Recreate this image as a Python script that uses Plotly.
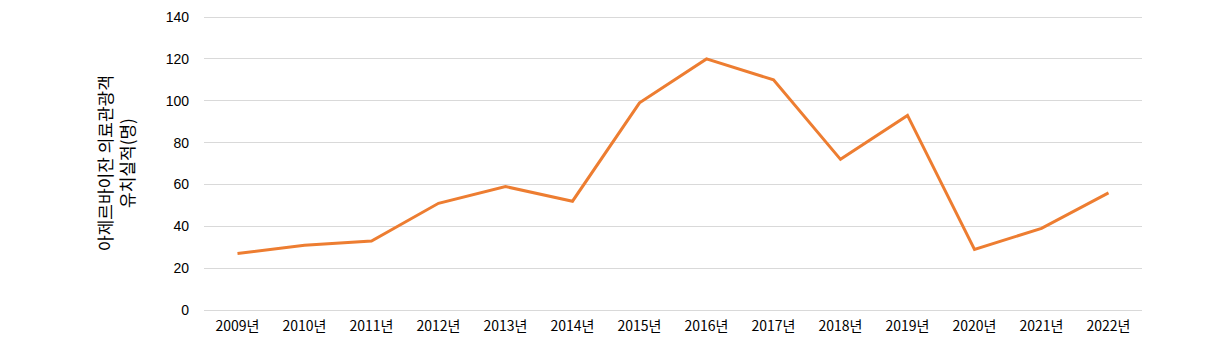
import plotly.graph_objects as go

years = ["2009년", "2010년", "2011년", "2012년", "2013년", "2014년", "2015년",
         "2016년", "2017년", "2018년", "2019년", "2020년", "2021년", "2022년"]
visitors = [27, 31, 33, 51, 59, 52, 99, 120, 110, 72, 93, 29, 39, 56]
y_ticks = [0, 20, 40, 60, 80, 100, 120, 140]
y_title = "아제르바이잔 의료관광객<br>유치실적(명)"

FONT = "Noto Sans CJK KR"

fig = go.Figure()
fig.add_trace(go.Scatter(
    x=years, y=visitors, mode="lines",
    line=dict(color="#ED7D31", width=3),
    showlegend=False,
))

fig.update_layout(
    width=1230, height=361,
    margin=dict(l=196, r=96, t=7, b=59),
    paper_bgcolor="white", plot_bgcolor="white",
    font=dict(family=FONT, size=13, color="#404040"),
    xaxis=dict(
        type="category", range=[-0.5, len(years) - 0.5], automargin=False,
        showgrid=False, showline=False, zeroline=False,
        ticks="", tickfont=dict(size=14, color="#000000"), ticklabelstandoff=6,
    ),
    yaxis=dict(
        range=[0, 141], tickvals=y_ticks, showgrid=True, gridcolor="#d9d9d9",
        gridwidth=1, zeroline=True, zerolinecolor="#d9d9d9", zerolinewidth=1,
        showline=False, ticks="",
        tickfont=dict(family="Liberation Sans", size=14, color="#000000"),
        ticklabelstandoff=14, ticklabeloverflow="allow", automargin=False,
    ),
    annotations=[dict(
        text=y_title, textangle=-90, xref="paper", yref="paper",
        x=(115 - 204) / 938, y=(310 - 163) / 295, xanchor="center", yanchor="middle",
        showarrow=False, font=dict(family=FONT, size=17, color="#000000"),
    )],
)

fig.write_html("out.html")
